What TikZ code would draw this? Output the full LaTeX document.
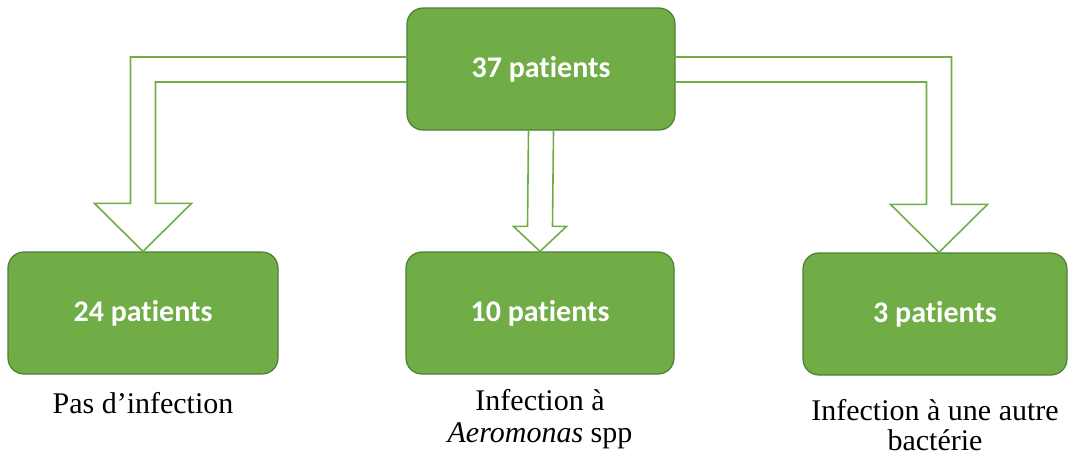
\documentclass[tikz,border=0pt]{standalone}
\usepackage{fontspec}
\setmainfont{Liberation Serif}
\newfontfamily\calfont[Ligatures={NoCommon,NoDiscretionary,NoRare}]{Carlito}
\usetikzlibrary{calc}
\definecolor{boxgreen}{HTML}{70AD47}
\definecolor{edgegreen}{HTML}{507E32}

\begin{document}
\begin{tikzpicture}[x=1pt,y=-1pt,
  group/.style={draw=edgegreen, line width=1.2pt, fill=boxgreen, rounded corners=16pt,
    minimum width=268pt, minimum height=122pt, text=white,
    font=\calfont\bfseries\fontsize{30}{36}\selectfont},
  caption/.style={anchor=north, align=center, inner sep=0pt,
    font=\fontsize{30}{31}\selectfont},
  hollow/.style={draw=boxgreen, line width=1.6pt, line join=miter}]
  \useasboundingbox (0,0) rectangle (1068,459);

  % Boxes
  \node[group] (total) at (541,69) {37 patients};
  \node[group, minimum width=270pt] (none) at (143,313) {24 patients};
  \node[group] (aero) at (540,313) {10 patients};
  \node[group, minimum width=264pt] (other) at (935,314) {3 patients};

  % Hollow arrows
  \def\shaft{12.5}
  \draw[hollow] ($(total.west)+(0,-12)$) -| ($(none.north)+(-\shaft,-48)$) -- ++(-36,0)
    -- (none.north) -- ++(48.5,-48) -- ++(-36,0) |- ($(total.west)+(0,13)$);
  \draw[hollow] ($(total.south)+(-\shaft,0)$) -- ($(aero.north)+(-\shaft,-25)$) -- ++(-14,0)
    -- (aero.north) -- ++(26.5,-25) -- ++(-14,0) -- ($(total.south)+(\shaft,0)$);
  \coordinate (tip) at ($(other.north)+(4,0)$);
  \draw[hollow] ($(total.east)+(0,-12)$) -| ($(tip)+(\shaft,-48)$) -- ++(36,0)
    -- (tip) -- ++(-48.5,-48) -- ++(36,0) |- ($(total.east)+(0,13)$);

  % Labels
  \node[caption] (nonetxt) at (143,392.5) {Pas d'infection};
  \node[caption] (aerotxt) at (540,389.5) {Infection à\\[1pt]\textit{Aeromonas} spp};
  \node[caption] (othertxt) at (935,399.5) {Infection à une autre\\[-1pt]bactérie};
\end{tikzpicture}
\end{document}
